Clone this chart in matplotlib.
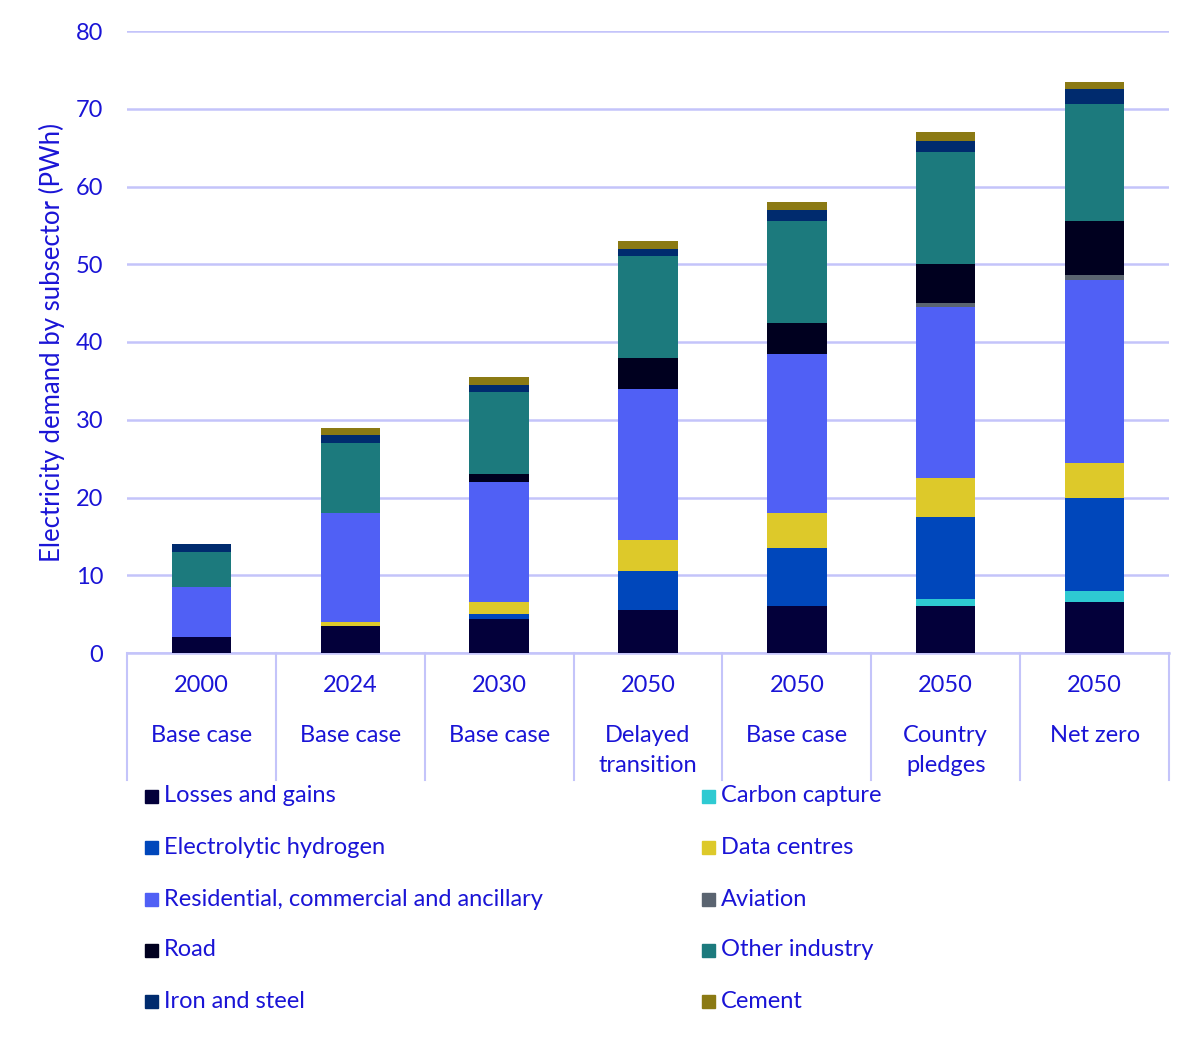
import matplotlib
matplotlib.use("Agg")
import matplotlib.pyplot as plt
import matplotlib.transforms as mtransforms
import numpy as np

years = ["2000", "2024", "2030", "2050", "2050", "2050", "2050"]
scenarios = ["Base case", "Base case", "Base case", "Delayed\ntransition",
             "Base case", "Country\npledges", "Net zero"]

series_names = ["Losses and gains", "Carbon capture", "Electrolytic hydrogen",
                "Data centres", "Residential, commercial and ancillary",
                "Aviation", "Road", "Other industry", "Iron and steel", "Cement"]

losses      = [2.0, 3.5, 4.4, 5.5, 6.0, 6.0, 6.5]
carbon_cap  = [0.0, 0.0, 0.0, 0.0, 0.0, 1.0, 1.5]
hydrogen    = [0.0, 0.0, 0.6, 5.0, 7.5, 10.5, 12.0]
data_centre = [0.0, 0.5, 1.5, 4.0, 4.5, 5.0, 4.5]
residential = [6.5, 14.0, 15.5, 19.5, 20.5, 22.0, 23.5]
aviation    = [0.0, 0.0, 0.0, 0.0, 0.0, 0.5, 0.6]
road        = [0.0, 0.0, 1.0, 4.0, 4.0, 5.0, 6.9]
other_ind   = [4.5, 9.0, 10.6, 13.0, 13.1, 14.5, 15.1]
iron_steel  = [1.0, 1.0, 0.9, 1.0, 1.4, 1.4, 1.9]
cement      = [0.0, 1.0, 1.0, 1.0, 1.0, 1.1, 1.0]

series_values = [losses, carbon_cap, hydrogen, data_centre, residential,
                 aviation, road, other_ind, iron_steel, cement]
colors = ["#03003A", "#2ECAD2", "#0047BB", "#DDC92A", "#5060F5",
          "#5A6470", "#00001F", "#1C7A7D", "#002B6E", "#8B7A14"]

legend_order_left = [0, 2, 4, 6, 8]
legend_order_right = [1, 3, 5, 7, 9]

txt_color = "#1A14D6"
grid_color = "#C4C4FA"
font = ["Lato", "DejaVu Sans"]
plt.rcParams["font.family"] = font
FS = 17

fig = plt.figure(figsize=(12, 10.45), dpi=100)
ax = fig.add_axes([127/1200, 1-653/1045, (1169-127)/1200, 622/1045])

x = np.arange(len(years))
bottom = np.zeros(len(years))
for vals, col in zip(series_values, colors):
    v = np.array(vals)
    ax.bar(x, v, bottom=bottom, width=0.4, color=col, zorder=3)
    bottom += v

ax.set_xlim(-0.5, len(years)-0.5)
ax.set_ylim(0, 80)
ax.set_yticks(np.arange(0, 81, 10))
ax.yaxis.grid(True, color=grid_color, linewidth=1.8, zorder=0)
ax.set_axisbelow(True)
for s in ["top", "right", "left"]:
    ax.spines[s].set_visible(False)
ax.spines["bottom"].set_color(grid_color)
ax.spines["bottom"].set_linewidth(1.8)
ax.tick_params(axis="y", length=0, pad=17, labelsize=FS, labelcolor=txt_color)
ax.tick_params(axis="x", length=0, labelbottom=False)
ax.set_ylabel("Electricity demand by subsector (PWh)", fontsize=18.5,
              color=txt_color)
ax.yaxis.set_label_coords((65-127)/1042, 0.5)

# category box
trans = mtransforms.blended_transform_factory(ax.transData, ax.transAxes)
yb = (653-780)/622
for b in np.arange(len(years)+1) - 0.5:
    ax.plot([b, b], [0, yb], transform=trans, color=grid_color,
            linewidth=1.5, clip_on=False)

px = 1/622
for i, (yr, sc) in enumerate(zip(years, scenarios)):
    ax.text(i, -(686-653)*px, yr, transform=trans, ha="center", va="center",
            fontsize=FS, color=txt_color)
    for j, line in enumerate(sc.split("\n")):
        ax.text(i, -(735-653+30*j)*px, line, transform=trans, ha="center",
                va="center", fontsize=FS, color=txt_color)

# legend
row_y = [796, 847, 899, 950, 1001]
for order, sx in [(legend_order_left, 145), (legend_order_right, 702)]:
    for r, k in enumerate(order):
        yy = 1 - row_y[r]/1045
        fig.patches.append(plt.Rectangle((sx/1200, yy - 6.5/1045), 13/1200, 13/1045,
                                         transform=fig.transFigure,
                                         color=colors[k], figure=fig))
        fig.text((sx+19)/1200, yy, series_names[k], ha="left", va="center",
                 fontsize=FS, color=txt_color)

fig.savefig("out.png", dpi=100, facecolor="white")
